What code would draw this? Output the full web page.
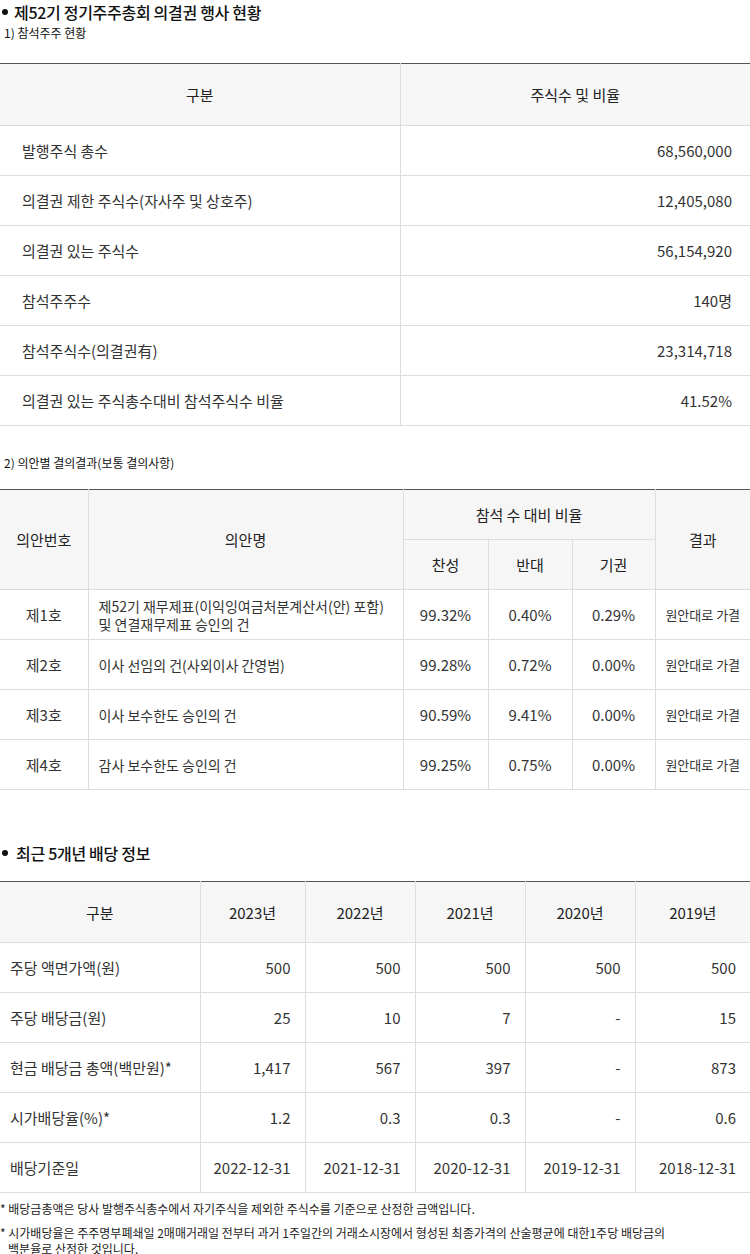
<!DOCTYPE html>
<html><head><meta charset="utf-8">
<script src="https://cdn.jsdelivr.net/npm/chart.js@4"></script>
<style>
body{margin:0;width:750px;font-family:"Noto Sans CJK KR","Noto Sans",sans-serif;color:#333;font-size:15px}
h2{margin:0;font-size:16px;font-weight:500;color:#111;position:relative;padding-left:14px;letter-spacing:-0.3px}
h2:before{content:"";position:absolute;left:2px;top:9px;width:6px;height:6px;border-radius:50%;background:#111}
.sub{font-size:12px;color:#111;margin:0}
table{border-collapse:collapse;width:750px;table-layout:fixed}
td,th{border-bottom:1px solid #ddd;height:49px;padding:0 10px;font-weight:400}
th{background:#f6f6f6;color:#222}
table{border-top:1px solid #555}
.r{text-align:right}.c{text-align:center}
.vl{border-left:1px solid #ddd}
.note{font-size:12px;color:#222;line-height:16px;margin:0}
</style></head><body>
<div id="root"></div>
<script>
const t1Labels=["발행주식 총수","의결권 제한 주식수(자사주 및 상호주)","의결권 있는 주식수","참석주주수","참석주식수(의결권有)","의결권 있는 주식총수대비 참석주식수 비율"];
const t1Values=["68,560,000","12,405,080","56,154,920","140명","23,314,718","41.52%"];
const agendaNo=["제1호","제2호","제3호","제4호"];
const agendaName=["제52기 재무제표(이익잉여금처분계산서(안) 포함)<br>및 연결재무제표 승인의 건","이사 선임의 건(사외이사 간영범)","이사 보수한도 승인의 건","감사 보수한도 승인의 건"];
const agendaFor=["99.32%","99.28%","90.59%","99.25%"];
const agendaAgainst=["0.40%","0.72%","9.41%","0.75%"];
const agendaAbstain=["0.29%","0.00%","0.00%","0.00%"];
const agendaResult=["원안대로 가결","원안대로 가결","원안대로 가결","원안대로 가결"];
const years=["2023년","2022년","2021년","2020년","2019년"];
const divLabels=["주당 액면가액(원)","주당 배당금(원)","현금 배당금 총액(백만원)*","시가배당율(%)*","배당기준일"];
const faceValue=["500","500","500","500","500"];
const dps=["25","10","7","-","15"];
const totalDiv=["1,417","567","397","-","873"];
const yieldPct=["1.2","0.3","0.3","-","0.6"];
const recordDate=["2022-12-31","2021-12-31","2020-12-31","2019-12-31","2018-12-31"];
const divRows=[faceValue,dps,totalDiv,yieldPct,recordDate];

let h='';
h+='<div style="height:0px"></div><h2>제52기 정기주주총회 의결권 행사 현황</h2>';
h+='<p class="sub" style="margin-top:0px;margin-left:4px">1) 참석주주 현황</p><div style="height:22px"></div>';
h+='<table><colgroup><col style="width:400px"><col></colgroup><tr><th style="height:61px">구분</th><th class="vl" style="height:61px">주식수 및 비율</th></tr>';
t1Labels.forEach((l,i)=>{h+=`<tr><td style="padding-left:22px">${l}</td><td class="vl r" style="padding-right:18px">${t1Values[i]}</td></tr>`});
h+='</table>';
h+='<p class="sub" style="margin-top:28px;margin-left:4px">2) 의안별 결의결과(보통 결의사항)</p><div style="height:18px"></div>';
h+='<table><colgroup><col style="width:88px"><col style="width:315px"><col style="width:85px"><col style="width:84px"><col style="width:83px"><col></colgroup>';
h+='<tr><th rowspan="2">의안번호</th><th rowspan="2" class="vl">의안명</th><th colspan="3" class="vl">참석 수 대비 비율</th><th rowspan="2" class="vl">결과</th></tr>';
h+='<tr><th class="vl">찬성</th><th class="vl">반대</th><th class="vl">기권</th></tr>';
agendaNo.forEach((n,i)=>{h+=`<tr><td class="c">${n}</td><td class="vl" style="line-height:18px;font-size:14px">${agendaName[i]}</td><td class="vl c">${agendaFor[i]}</td><td class="vl c">${agendaAgainst[i]}</td><td class="vl c">${agendaAbstain[i]}</td><td class="vl c" style="font-size:13px;padding:0 4px">${agendaResult[i]}</td></tr>`});
h+='</table>';
h+='<div style="height:51px"></div><h2 style="padding-left:16px">최근 5개년 배당 정보</h2><div style="height:16px"></div>';
h+='<table><colgroup><col style="width:200px"><col style="width:105px"><col style="width:110px"><col style="width:110px"><col style="width:110px"><col></colgroup><tr><th style="height:60px">구분</th>';
years.forEach(y=>h+=`<th class="vl" style="height:60px">${y}</th>`);h+='</tr>';
divLabels.forEach((l,i)=>{h+=`<tr><td>${l}</td>`;divRows[i].forEach(v=>h+=`<td class="vl r" style="padding-right:14px">${v}</td>`);h+='</tr>'});
h+='</table>';
h+='<div style="height:8px"></div><p class="note">* 배당금총액은 당사 발행주식총수에서 자기주식을 제외한 주식수를 기준으로 산정한 금액입니다.</p>';
h+='<p class="note" style="margin-top:8px">* 시가배당율은 주주명부폐쇄일 2매매거래일 전부터 과거 1주일간의 거래소시장에서 형성된 최종가격의 산술평균에 대한1주당 배당금의<br>&nbsp;&nbsp;&nbsp;백분율로 산정한 것입니다.</p>';
document.getElementById('root').innerHTML=h;
</script></body></html>
